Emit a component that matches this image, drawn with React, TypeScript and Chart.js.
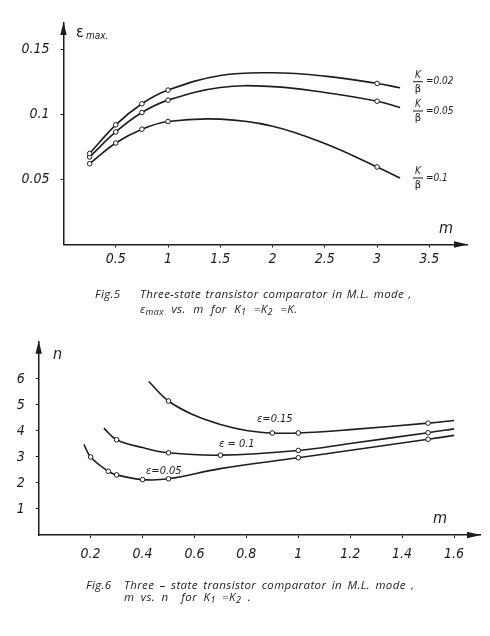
import React, { useEffect, useRef } from "react";
import { Chart, registerables } from "chart.js";
Chart.register(...registerables);

const INK = "#1d1d1d";
const FONT = "'Liberation Sans Narrow', 'DejaVu Sans Condensed', 'Liberation Sans', sans-serif";

// ---------- Fig. 5 : eps_max vs m ----------
const fig5M = [0.25, 0.5, 0.75, 1, 1.5, 2, 2.5, 3, 3.22];
const fig5K002 = [0.0698, 0.0918, 0.108, 0.1185, 0.1297, 0.1318, 0.1292, 0.1236, 0.1203];
const fig5K005 = [0.0672, 0.0864, 0.1013, 0.1108, 0.1205, 0.1212, 0.1167, 0.110, 0.1051];
const fig5K01 = [0.062, 0.0779, 0.0885, 0.0944, 0.0962, 0.0908, 0.0775, 0.0595, 0.051];
const fig5Marked = [1, 1, 1, 1, 0, 0, 0, 1, 0];
const fig5XTicks = [0.5, 1, 1.5, 2, 2.5, 3, 3.5];
const fig5XLabels = ["0.5", "1", "1.5", "2", "2.5", "3", "3.5"];
const fig5YTicks = [0.05, 0.1, 0.15];
const fig5YLabels = ["0.05", "0.1", "0.15"];
const fig5CurveNames = ["0.02", "0.05", "0.1"];

// ---------- Fig. 6 : n vs m ----------
const fig6M15 = [0.424, 0.5, 0.6, 0.7, 0.8, 0.9, 1.0, 1.2, 1.5, 1.6];
const fig6N15 = [5.9, 5.15, 4.6, 4.25, 4.02, 3.92, 3.92, 4.05, 4.3, 4.4];
const fig6Marked15 = [0, 1, 0, 0, 0, 1, 1, 0, 1, 0];
const fig6M10 = [0.251, 0.3, 0.4, 0.5, 0.7, 1.0, 1.2, 1.5, 1.6];
const fig6N10 = [4.11, 3.66, 3.36, 3.16, 3.07, 3.25, 3.52, 3.93, 4.08];
const fig6Marked10 = [0, 1, 0, 1, 1, 1, 0, 1, 0];
const fig6M05 = [0.174, 0.2, 0.268, 0.3, 0.4, 0.5, 0.7, 1.0, 1.5, 1.6];
const fig6N05 = [3.48, 3.0, 2.45, 2.31, 2.13, 2.16, 2.55, 2.97, 3.68, 3.83];
const fig6Marked05 = [0, 1, 1, 1, 1, 1, 0, 1, 1, 0];
const fig6XTicks = [0.2, 0.4, 0.6, 0.8, 1, 1.2, 1.4, 1.6];
const fig6XLabels = ["0.2", "0.4", "0.6", "0.8", "1", "1.2", "1.4", "1.6"];
const fig6YTicks = [1, 2, 3, 4, 5, 6];
const fig6YLabels = ["1", "2", "3", "4", "5", "6"];
const fig6CurveNames = ["ε=0.15", "ε = 0.1", "ε=0.05"];

function curve(xs: number[], ys: number[], marks: number[]) {
  return {
    data: xs.map((x, i) => ({ x, y: ys[i] })),
    borderColor: INK,
    borderWidth: 1.6,
    tension: 0.4,
    pointRadius: marks.map((m) => (m ? 2.3 : 0)),
    pointBackgroundColor: "#ffffff",
    pointBorderColor: INK,
    pointBorderWidth: 1,
    fill: false,
  };
}

const arrowPlugin = {
  id: "arrows",
  afterDraw(chart: any) {
    const { ctx, chartArea: a } = chart;
    ctx.save();
    ctx.fillStyle = INK;
    ctx.beginPath();
    ctx.moveTo(a.left, a.top - 1);
    ctx.lineTo(a.left - 3.2, a.top + 12);
    ctx.lineTo(a.left + 3.2, a.top + 12);
    ctx.closePath();
    ctx.fill();
    ctx.beginPath();
    ctx.moveTo(a.right + 1, a.bottom);
    ctx.lineTo(a.right - 13, a.bottom - 3.2);
    ctx.lineTo(a.right - 13, a.bottom + 3.2);
    ctx.closePath();
    ctx.fill();
    ctx.restore();
  },
};

function italic(size: number) {
  return `italic ${size}px ${FONT}`;
}

function fig5Labels(chart: any) {
  const ctx = chart.ctx;
  ctx.save();
  ctx.fillStyle = INK;
  ctx.strokeStyle = INK;
  ctx.textBaseline = "middle";
  ctx.textAlign = "left";
  ctx.font = `16px ${FONT}`;
  ctx.fillText("ε", 76, 33);
  ctx.font = italic(10);
  ctx.fillText("max.", 86, 36);
  ctx.font = italic(16);
  ctx.fillText("m", 439, 229);
  const bars = [81.7, 111, 178];
  bars.forEach((b, i) => {
    ctx.textAlign = "center";
    ctx.font = italic(10);
    ctx.fillText("K", 418, b - 6.5);
    ctx.font = `11px ${FONT}`;
    ctx.fillText("β", 418, b + 7.5);
    ctx.lineWidth = 1;
    ctx.beginPath();
    ctx.moveTo(413, b);
    ctx.lineTo(423, b);
    ctx.stroke();
    ctx.textAlign = "left";
    ctx.font = italic(10);
    ctx.fillText("=" + fig5CurveNames[i], 426, b);
  });
  ctx.restore();
}

function fig6Labels(chart: any) {
  const ctx = chart.ctx;
  ctx.save();
  ctx.fillStyle = INK;
  ctx.textBaseline = "middle";
  ctx.textAlign = "left";
  ctx.font = italic(16);
  ctx.fillText("n", 53, 35);
  ctx.fillText("m", 433, 199);
  ctx.font = italic(11);
  ctx.fillText(fig6CurveNames[0], 257, 99.3);
  ctx.fillText(fig6CurveNames[1], 219, 124.3);
  ctx.fillText(fig6CurveNames[2], 146, 150.7);
  ctx.restore();
}

type Spec = {
  width: number;
  height: number;
  datasets: any[];
  xMax: number;
  yMax: number;
  xTicks: number[];
  xLabels: string[];
  yTicks: number[];
  yLabels: string[];
  yWidth: number;
  xHeight: number;
  padTop: number;
  padRight: number;
  xPad: number;
  yPad: number;
  labels: (chart: any) => void;
};

function ChartBox({ spec, top }: { spec: Spec; top: number }) {
  const ref = useRef<HTMLCanvasElement>(null);
  useEffect(() => {
    if (!ref.current) return;
    const tickFont = { family: FONT, size: 14, style: "italic" as const };
    const chart = new Chart(ref.current, {
      type: "line",
      data: { datasets: spec.datasets },
      options: {
        animation: false,
        responsive: false,
        devicePixelRatio: 1,
        layout: { padding: { left: 0, top: spec.padTop, right: spec.padRight, bottom: 0 } },
        plugins: { legend: { display: false }, tooltip: { enabled: false } },
        scales: {
          x: {
            type: "linear",
            min: 0,
            max: spec.xMax,
            afterBuildTicks: (s: any) => {
              s.ticks = spec.xTicks.map((v) => ({ value: v }));
            },
            afterFit: (s: any) => {
              s.height = spec.xHeight;
            },
            ticks: {
              font: tickFont,
              color: INK,
              padding: spec.xPad,
              maxRotation: 0,
              autoSkip: false,
              callback: (v: any) => {
                const i = spec.xTicks.findIndex((t) => Math.abs(t - Number(v)) < 1e-6);
                return i >= 0 ? spec.xLabels[i] : "";
              },
            },
            grid: { drawOnChartArea: false, drawTicks: true, tickLength: 3, color: INK, lineWidth: 1 },
            border: { display: true, color: INK, width: 1.5 },
          },
          y: {
            type: "linear",
            min: 0,
            max: spec.yMax,
            afterBuildTicks: (s: any) => {
              s.ticks = spec.yTicks.map((v) => ({ value: v }));
            },
            afterFit: (s: any) => {
              s.width = spec.yWidth;
            },
            ticks: {
              font: tickFont,
              color: INK,
              padding: spec.yPad,
              autoSkip: false,
              callback: (v: any) => {
                const i = spec.yTicks.findIndex((t) => Math.abs(t - Number(v)) < 1e-6);
                return i >= 0 ? spec.yLabels[i] : "";
              },
            },
            grid: { drawOnChartArea: false, drawTicks: true, tickLength: 3, color: INK, lineWidth: 1 },
            border: { display: true, color: INK, width: 1.5 },
          },
        },
      } as any,
      plugins: [arrowPlugin, { id: "labels", afterDraw: spec.labels }],
    });
    return () => chart.destroy();
  }, []);
  return (
    <canvas
      ref={ref}
      width={spec.width}
      height={spec.height}
      style={{ position: "absolute", left: 0, top, width: spec.width, height: spec.height, display: "block" }}
    />
  );
}

const spec5: Spec = {
  width: 490,
  height: 320,
  datasets: [
    curve(fig5M, fig5K002, fig5Marked),
    curve(fig5M, fig5K005, fig5Marked),
    curve(fig5M, fig5K01, fig5Marked),
  ],
  xMax: 3.86,
  yMax: 0.17,
  xTicks: fig5XTicks,
  xLabels: fig5XLabels,
  yTicks: fig5YTicks,
  yLabels: fig5YLabels,
  yWidth: 63.5,
  xHeight: 75.5,
  padTop: 23,
  padRight: 23,
  xPad: 3,
  yPad: 11,
  labels: fig5Labels,
};

const spec6: Spec = {
  width: 490,
  height: 316,
  datasets: [
    curve(fig6M15, fig6N15, fig6Marked15),
    curve(fig6M10, fig6N10, fig6Marked10),
    curve(fig6M05, fig6N05, fig6Marked05),
  ],
  xMax: 1.7,
  yMax: 7.43,
  xTicks: fig6XTicks,
  xLabels: fig6XLabels,
  yTicks: fig6YTicks,
  yLabels: fig6YLabels,
  yWidth: 38.7,
  xHeight: 101,
  padTop: 21.7,
  padRight: 10,
  xPad: 8,
  yPad: 11,
  labels: fig6Labels,
};

const capStyle: React.CSSProperties = {
  position: "absolute",
  fontFamily: "'Open Sans', 'Liberation Sans', sans-serif",
  fontStyle: "italic",
  fontSize: 11.5,
  color: INK,
  whiteSpace: "pre",
  lineHeight: "14px",
  letterSpacing: 0.4,
};

const subStyle: React.CSSProperties = { fontSize: 9, verticalAlign: -2 };

export default function App() {
  return (
    <div
      style={{
        position: "fixed",
        left: 0,
        top: 0,
        width: 490,
        height: 636,
        background: "#ffffff",
        overflow: "hidden",
      }}
    >
      <ChartBox spec={spec5} top={0} />
      <ChartBox spec={spec6} top={320} />
      <div style={{ ...capStyle, left: 95, top: 287 }}>Fig.5</div>
      <div style={{ ...capStyle, left: 140, top: 287, wordSpacing: 1 }}>
        Three-state transistor comparator in M.L. mode ,
      </div>
      <div style={{ ...capStyle, left: 140, top: 302, wordSpacing: 4 }}>
        ε<sub style={subStyle}>max</sub> vs. m for K<sub style={subStyle}>1</sub> =K<sub style={subStyle}>2</sub> =K.
      </div>
      <div style={{ ...capStyle, left: 86, top: 578 }}>Fig.6</div>
      <div style={{ ...capStyle, left: 124, top: 578, wordSpacing: 2 }}>
        Three – state transistor comparator in M.L. mode ,
      </div>
      <div style={{ ...capStyle, left: 124, top: 590, wordSpacing: 3 }}>
        m vs. n  for K<sub style={subStyle}>1</sub> =K<sub style={subStyle}>2</sub> .
      </div>
    </div>
  );
}
